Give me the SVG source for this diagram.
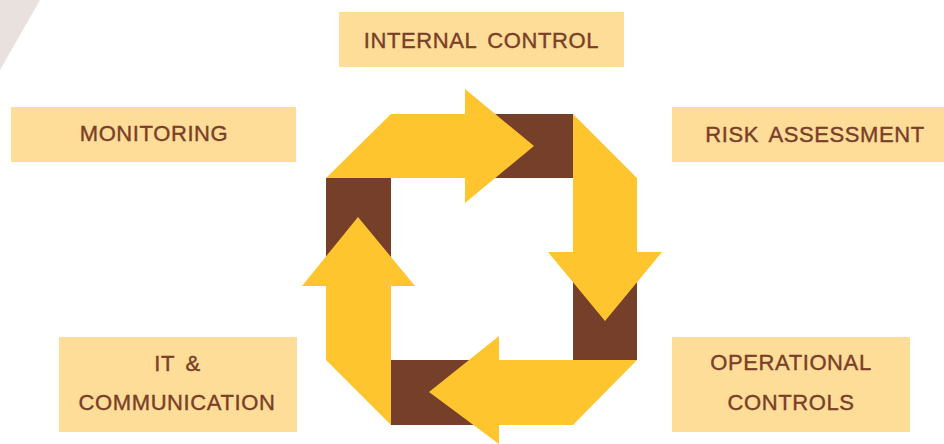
<svg xmlns="http://www.w3.org/2000/svg" width="944" height="444" viewBox="0 0 944 444">
<style>
.box{fill:#FEDD98}
.lbl{font-family:"Liberation Sans",Arial,sans-serif;font-size:22px;fill:#7A3F28;stroke:#7A3F28;stroke-width:0.4px;text-anchor:middle;letter-spacing:0.6px;word-spacing:4px}
.ylw{fill:#FEC52E}
.brn{fill:#763F2A}
</style>
<rect width="944" height="444" fill="#FFFFFF"/>
<polygon points="0,0 40,0 0,70" fill="#E9E1DD"/>
<g id="cycle">
<rect class="brn" x="465" y="114" width="108" height="64"/>
<rect class="brn" x="573" y="252" width="64" height="108"/>
<rect class="brn" x="391" y="360" width="108" height="65"/>
<rect class="brn" x="326" y="178" width="65" height="108"/>
<polygon class="ylw" points="326,178 391,114 465,114 465,89 534,146 465,203 465,178"/>
<polygon class="ylw" points="573,114 637,178 637,252 662,252 605,321 548,252 573,252"/>
<polygon class="ylw" points="637,360 573,425 499,425 499,444 429,392 499,336 499,360"/>
<polygon class="ylw" points="391,425 326,360 326,286 302,286 358,217 415,286 391,286"/>
</g>
<g id="internal-control">
<rect class="box" x="339" y="12" width="285" height="55"/>
<text class="lbl" x="481.5" y="47.5">INTERNAL CONTROL</text>
</g>
<g id="monitoring">
<rect class="box" x="11" y="107" width="285" height="55"/>
<text class="lbl" x="154" y="141">MONITORING</text>
</g>
<g id="risk-assessment">
<rect class="box" x="672" y="107" width="272" height="55"/>
<text class="lbl" x="815" y="142">RISK ASSESSMENT</text>
</g>
<g id="it-communication">
<rect class="box" x="59" y="337" width="238" height="95"/>
<text class="lbl" x="177.5" y="371">IT &amp;</text>
<text class="lbl" x="177" y="410">COMMUNICATION</text>
</g>
<g id="operational-controls">
<rect class="box" x="672" y="337" width="238" height="95"/>
<text class="lbl" x="791" y="370">OPERATIONAL</text>
<text class="lbl" x="791" y="410">CONTROLS</text>
</g>
</svg>
